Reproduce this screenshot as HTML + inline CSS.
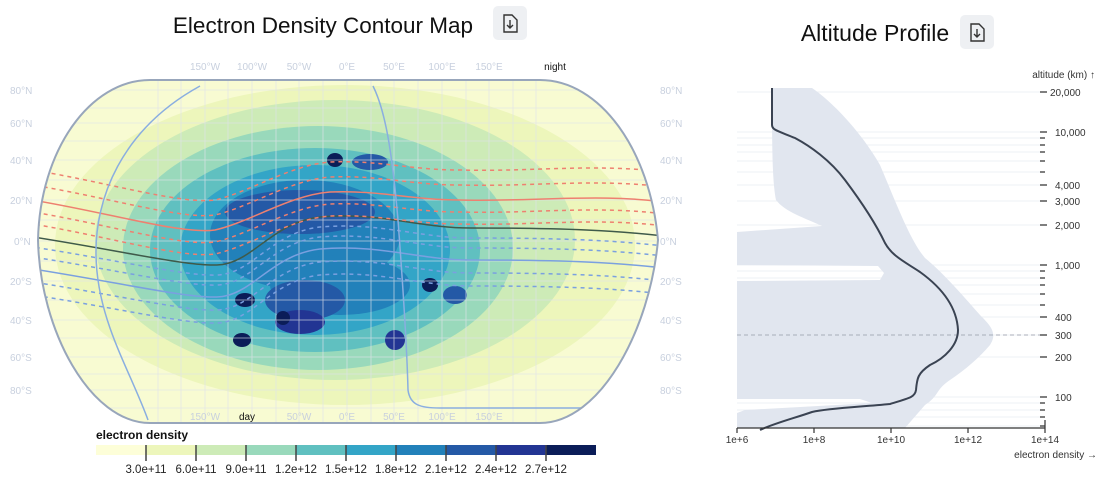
<!DOCTYPE html>
<html><head><meta charset="utf-8"><style>
body{margin:0;width:1101px;height:496px;background:#fff;font-family:"Liberation Sans",sans-serif;overflow:hidden}
svg{position:absolute;left:0;top:0}
</style></head><body>
<svg width="1101" height="496" viewBox="0 0 1101 496" font-family="Liberation Sans, sans-serif">
<defs>
<clipPath id="mc"><path d="M150,80 L540,80 C600,80 650,150 658,240 C650,330 600,423 540,423 L150,423 C90,423 40,330 38,240 C40,150 90,80 150,80 Z"/></clipPath>
<path id="base" d="M20,235 C120,250 200,270 225,264 C255,258 275,222 320,217 C380,212 420,228 470,228 C560,228 620,230 680,238" fill="none"/>
<path id="redb" d="M20,198 C100,210 180,235 215,230 C250,222 290,195 330,192 C380,190 410,200 460,200 C540,202 600,192 680,204" fill="none"/>
</defs>
<text x="323" y="33" font-size="22.5" text-anchor="middle" fill="#111">Electron Density Contour Map</text>
<rect x="493" y="6" width="34" height="34" rx="5" fill="#eef0f3"/>
<path d="M504,15 h8 l5,5 v12 h-13 z" fill="none" stroke="#333" stroke-width="1.4"/><path d="M510,20 v8 M507,25 l3,3 l3,-3" fill="none" stroke="#333" stroke-width="1.4"/>
<text x="875" y="41" font-size="23" text-anchor="middle" fill="#111">Altitude Profile</text>
<rect x="960" y="15" width="34" height="34" rx="5" fill="#eef0f3"/>
<path d="M971,24 h8 l5,5 v12 h-13 z" fill="none" stroke="#333" stroke-width="1.4"/><path d="M977,29 v8 M974,34 l3,3 l3,-3" fill="none" stroke="#333" stroke-width="1.4"/>

<g clip-path="url(#mc)">
<rect x="30" y="70" width="640" height="360" fill="#f8fbd2"/>
<ellipse cx="345" cy="245" rx="290" ry="160" fill="#edf6bb"/>
<ellipse cx="335" cy="240" rx="240" ry="140" fill="#cdebb7"/>
<ellipse cx="318" cy="248" rx="195" ry="122" fill="#99d9bb"/>
<ellipse cx="315" cy="250" rx="165" ry="102" fill="#60c0c0"/>
<ellipse cx="315" cy="250" rx="135" ry="85" fill="#33a5c7"/>
<ellipse cx="305" cy="235" rx="95" ry="55" fill="#2281ba"/>
<ellipse cx="340" cy="285" rx="70" ry="30" fill="#2281ba"/>
<ellipse cx="300" cy="212" rx="75" ry="22" fill="#2459a6"/>
<ellipse cx="305" cy="300" rx="40" ry="20" fill="#2459a6"/>
<ellipse cx="395" cy="340" rx="10" ry="10" fill="#223593"/>
<ellipse cx="300" cy="322" rx="25" ry="12" fill="#223593"/>
<ellipse cx="283" cy="318" rx="7" ry="7" fill="#0b1d58"/>
<ellipse cx="245" cy="300" rx="10" ry="7" fill="#0b1d58"/>
<ellipse cx="242" cy="340" rx="9" ry="7" fill="#0b1d58"/>
<ellipse cx="335" cy="160" rx="8" ry="7" fill="#0b1d58"/>
<ellipse cx="430" cy="285" rx="8" ry="7" fill="#0b1d58"/>
<ellipse cx="455" cy="295" rx="12" ry="9" fill="#2459a6"/>
<ellipse cx="370" cy="162" rx="18" ry="8" fill="#2459a6"/>
</g>
<g clip-path="url(#mc)" stroke="#dfe3ea" stroke-width="0.8" opacity="0.8">
<path d="M38,90H660M38,108H660M38,123H660M38,141H660M38,160H660M38,180H660M38,200H660M38,220H660M38,241H660M38,261H660M38,281H660M38,300H660M38,320H660M38,338H660M38,357H660M38,374H660M38,390H660M38,408H660" fill="none"/>
<path d="M347,80V423M371,80V423M394,80V423M418,80V423M442,80V423M466,80V423M489,80V423M513,80V423M536,80V423M323,80V423M299,80V423M276,80V423M252,80V423M228,80V423M205,80V423M181,80V423M158,80V423" fill="none"/>
</g>
<g clip-path="url(#mc)" fill="none" stroke-width="1.5">
<use href="#base" stroke="#3f5a4a"/>
<use href="#redb" stroke="#ee8070"/>
<use href="#redb" stroke="#ee8070" stroke-dasharray="4,4" transform="translate(0,-15)"/>
<use href="#redb" stroke="#ee8070" stroke-dasharray="4,4" transform="translate(0,-30)"/>
<use href="#redb" stroke="#ee8070" stroke-dasharray="4,4" transform="translate(0,12)"/>
<use href="#redb" stroke="#ee8070" stroke-dasharray="4,4" transform="translate(0,24)"/>
<use href="#base" stroke="#7aa0e0" stroke-dasharray="4,4" transform="translate(0,10)"/>
<use href="#base" stroke="#7aa0e0" stroke-dasharray="4,4" transform="translate(0,20)"/>
<use href="#base" stroke="#7aa0e0" transform="translate(0,32)"/>
<use href="#base" stroke="#7aa0e0" stroke-dasharray="4,4" transform="translate(0,45)"/>
<use href="#base" stroke="#7aa0e0" stroke-dasharray="4,4" transform="translate(0,58)"/>
<path d="M200,86 C120,130 95,200 96,255 C97,320 130,370 148,420" stroke="#8aaee0"/>
<path d="M373,86 C385,110 392,150 398,220 C404,300 407,350 408,390 C410,405 420,408 440,408 L660,408" stroke="#8aaee0"/>
</g>
<path d="M150,80 L540,80 C600,80 650,150 658,240 C650,330 600,423 540,423 L150,423 C90,423 40,330 38,240 C40,150 90,80 150,80 Z" fill="none" stroke="#98a6bb" stroke-width="2"/>
<g font-size="10" fill="#c8d0de">
<text x="10" y="94">80°N</text><text x="10" y="127">60°N</text><text x="10" y="164">40°N</text><text x="10" y="204">20°N</text><text x="14" y="245">0°N</text><text x="10" y="285">20°S</text><text x="10" y="324">40°S</text><text x="10" y="361">60°S</text><text x="10" y="394">80°S</text>
<text x="660" y="94">80°N</text><text x="660" y="127">60°N</text><text x="660" y="164">40°N</text><text x="660" y="204">20°N</text><text x="660" y="245">0°N</text><text x="660" y="285">20°S</text><text x="660" y="324">40°S</text><text x="660" y="361">60°S</text><text x="660" y="394">80°S</text>
<g text-anchor="middle"><text x="205" y="70">150°W</text><text x="252" y="70">100°W</text><text x="299" y="70">50°W</text><text x="347" y="70">0°E</text><text x="394" y="70">50°E</text><text x="442" y="70">100°E</text><text x="489" y="70">150°E</text>
<text x="205" y="420">150°W</text><text x="299" y="420">50°W</text><text x="347" y="420">0°E</text><text x="394" y="420">50°E</text><text x="442" y="420">100°E</text><text x="489" y="420">150°E</text></g>
</g>
<text x="555" y="70" font-size="10" text-anchor="middle" fill="#111">night</text>
<text x="247" y="420" font-size="10" text-anchor="middle" fill="#111">day</text>

<text x="96" y="439" font-size="12" font-weight="bold" fill="#111">electron density</text>
<g>
<rect x="96" y="445" width="50" height="10" fill="#fdfed8"/><rect x="146" y="445" width="50" height="10" fill="#edf6bb"/><rect x="196" y="445" width="50" height="10" fill="#cdebb7"/><rect x="246" y="445" width="50" height="10" fill="#99d9bb"/><rect x="296" y="445" width="50" height="10" fill="#60c0c0"/><rect x="346" y="445" width="50" height="10" fill="#33a5c7"/><rect x="396" y="445" width="50" height="10" fill="#2281ba"/><rect x="446" y="445" width="50" height="10" fill="#2459a6"/><rect x="496" y="445" width="50" height="10" fill="#223593"/><rect x="546" y="445" width="50" height="10" fill="#0b1d58"/>
</g>
<g stroke="#444" stroke-width="1.5"><path d="M146,445v16M196,445v16M246,445v16M296,445v16M346,445v16M396,445v16M446,445v16M496,445v16M546,445v16"/></g>
<g font-size="11.5" text-anchor="middle" fill="#222">
<text x="146" y="473">3.0e+11</text><text x="196" y="473">6.0e+11</text><text x="246" y="473">9.0e+11</text><text x="296" y="473">1.2e+12</text><text x="346" y="473">1.5e+12</text><text x="396" y="473">1.8e+12</text><text x="446" y="473">2.1e+12</text><text x="496" y="473">2.4e+12</text><text x="546" y="473">2.7e+12</text>
</g>

<g stroke="#eef1f6" stroke-width="1">
<path d="M737,92H1040M737,132H1040M737,138H1040M737,145H1040M737,152H1040M737,161H1040M737,172H1040M737,185H1040M737,201H1040M737,225H1040M737,265H1040M737,271H1040M737,278H1040M737,285H1040M737,294H1040M737,305H1040M737,317H1040M737,335H1040M737,357H1040M737,397H1040M737,403H1040M737,410H1040M737,417H1040M737,426H1040"/>
</g>
<path d="M772,88 L812,88 C830,100 860,130 880,165 C897,205 910,240 925,258 C940,270 960,292 980,315 C990,325 998,333 990,345 C980,357 965,370 950,380 C935,390 940,395 925,405 L905,428 L737,428 L737,413 L745,410 L872,403 L860,399 L737,399 L737,281 L880,280 L884,273 L878,266 L737,265 L737,232 L822,226 C805,218 785,212 776,200 C772,180 772,140 772,88 Z" fill="#e1e6ef"/>
<path d="M737,335H1045" stroke="#a8aeb8" stroke-dasharray="4,3" stroke-width="1"/>
<path d="M772,88 L772,125 C772,130 778,131 795,138 C810,146 830,160 845,180 C860,200 875,222 885,243 C892,256 905,262 920,272 C945,290 957,310 958,330 C958,345 945,358 930,365 C918,373 917,378 916,390 C915,397 910,398 890,404 C860,407 830,408 812,412 C795,418 775,423 760,430" fill="none" stroke="#3a4352" stroke-width="2"/>
<g stroke="#333" stroke-width="1.2"><path d="M737,428H1045M737,428v5M814,428v5M891,428v5M968,428v5M1045,428v5"/>
<path d="M1040,92h7M1040,132h7M1040,138h5M1040,145h5M1040,152h5M1040,161h5M1040,172h5M1040,185h7M1040,201h7M1040,225h7M1040,265h7M1040,271h5M1040,278h5M1040,285h5M1040,294h5M1040,305h5M1040,317h7M1040,335h7M1040,357h7M1040,397h7M1040,403h5M1040,410h5M1040,417h5M1040,426h5M1045,420v8"/></g>
<g font-size="10" fill="#333">
<text x="1050" y="96">20,000</text><text x="1055" y="136">10,000</text><text x="1055" y="189">4,000</text><text x="1055" y="205">3,000</text><text x="1055" y="229">2,000</text><text x="1055" y="269">1,000</text><text x="1055" y="321">400</text><text x="1055" y="339">300</text><text x="1055" y="361">200</text><text x="1055" y="401">100</text>
<text x="1095" y="78" text-anchor="end">altitude (km) ↑</text>
<text x="1097" y="458" text-anchor="end">electron density →</text>
<g text-anchor="middle"><text x="737" y="443">1e+6</text><text x="814" y="443">1e+8</text><text x="891" y="443">1e+10</text><text x="968" y="443">1e+12</text><text x="1045" y="443">1e+14</text></g>
</g>
</svg>
</body></html>
